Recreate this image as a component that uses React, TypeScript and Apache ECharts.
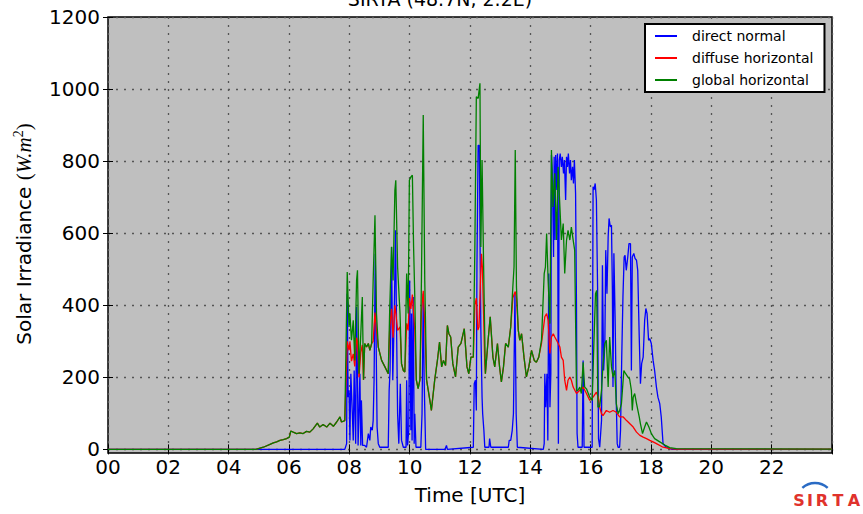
import React, { useEffect, useRef } from 'react';
import * as echarts from 'echarts';

// [hour UTC, W/m²]
const globalHorizontal: number[][] = [
  [0, 0], [4.9, 0], [5.15, 6], [5.37, 14], [5.48, 18], [5.59, 21], [5.7, 25], [5.81, 27], [5.92, 30], [6.01, 34], [6.06, 51],
  [6.14, 48], [6.25, 44], [6.36, 46], [6.47, 44], [6.58, 50], [6.69, 48], [6.8, 57], [6.94, 73], [7.02, 62], [7.13, 69],
  [7.25, 62], [7.36, 73], [7.47, 64], [7.58, 76], [7.69, 90], [7.74, 76], [7.85, 80],
  [7.93, 492], [7.99, 340], [8.02, 377], [8.07, 303], [8.13, 358], [8.18, 247], [8.24, 469], [8.27, 497], [8.32, 210],
  [8.38, 321], [8.43, 423], [8.47, 193], [8.51, 294], [8.57, 284], [8.63, 294], [8.68, 275], [8.74, 294], [8.79, 469],
  [8.85, 650], [8.9, 377], [8.96, 284], [9.07, 247], [9.18, 229], [9.29, 210], [9.34, 395], [9.4, 562], [9.45, 469],
  [9.51, 719], [9.54, 747], [9.6, 506], [9.68, 377], [9.73, 238], [9.79, 219], [9.84, 215], [9.9, 488], [9.95, 377],
  [9.99, 747], [10.04, 756], [10.09, 761], [10.13, 562], [10.17, 423], [10.22, 193], [10.28, 169], [10.34, 193],
  [10.39, 469], [10.45, 928], [10.5, 469], [10.56, 193], [10.67, 136], [10.72, 108], [10.83, 193], [10.92, 247],
  [10.99, 298], [11.06, 229], [11.12, 247], [11.19, 233], [11.25, 344], [11.3, 321], [11.36, 312], [11.43, 238],
  [11.52, 201], [11.61, 284], [11.7, 294], [11.81, 335], [11.9, 229], [11.96, 210], [12.03, 256], [12.11, 256],
  [12.16, 553], [12.21, 979], [12.27, 974], [12.33, 1016], [12.36, 562], [12.4, 803], [12.45, 516], [12.51, 210],
  [12.6, 303], [12.67, 368], [12.76, 256], [12.82, 229], [12.91, 294], [12.98, 229], [13.04, 187], [13.11, 229],
  [13.18, 294], [13.27, 284], [13.35, 340], [13.42, 451], [13.46, 507], [13.5, 831], [13.54, 451], [13.6, 331],
  [13.65, 303], [13.71, 321], [13.79, 256], [13.87, 201], [13.95, 229], [14.04, 275], [14.13, 247], [14.2, 242],
  [14.28, 256], [14.37, 303], [14.46, 488], [14.5, 506], [14.54, 599], [14.59, 469], [14.65, 349], [14.7, 831],
  [14.75, 673], [14.81, 766], [14.87, 581], [14.92, 784], [14.98, 673], [15.03, 581], [15.09, 627], [15.14, 488],
  [15.2, 581], [15.25, 608], [15.31, 581], [15.36, 617], [15.42, 581], [15.47, 553], [15.53, 164], [15.58, 164],
  [15.64, 173], [15.69, 155], [15.75, 242], [15.8, 173], [15.86, 168], [15.97, 145], [16.05, 136], [16.11, 303],
  [16.16, 432], [16.2, 441], [16.24, 117], [16.3, 120], [16.36, 164], [16.41, 238], [16.47, 294], [16.52, 303],
  [16.58, 173], [16.63, 312], [16.69, 229], [16.74, 201], [16.8, 219], [16.85, 127], [16.91, 99], [16.96, 108],
  [17.02, 127], [17.1, 219], [17.16, 210], [17.23, 201], [17.29, 196], [17.35, 164], [17.38, 108], [17.41, 145],
  [17.46, 155], [17.52, 127], [17.61, 90], [17.65, 71], [17.72, 44], [17.79, 62], [17.85, 76], [17.93, 62],
  [18.01, 44], [18.12, 30], [18.29, 21], [18.46, 12], [18.62, 5], [18.84, 2], [24, 1],
];

const diffuseHorizontal: number[][] = [
  [0, 0], [4.9, 0], [5.15, 6], [5.37, 14], [5.48, 18], [5.59, 21], [5.7, 25], [5.81, 27], [5.92, 30], [6.01, 34], [6.06, 51],
  [6.14, 48], [6.25, 44], [6.36, 46], [6.47, 44], [6.58, 50], [6.69, 48], [6.8, 57], [6.94, 73], [7.02, 62], [7.13, 69],
  [7.25, 62], [7.36, 73], [7.47, 64], [7.58, 76], [7.69, 90], [7.74, 76], [7.85, 80],
  [7.93, 300], [7.99, 275], [8.02, 300], [8.07, 245], [8.13, 265], [8.18, 230], [8.24, 310], [8.27, 300], [8.32, 200],
  [8.38, 270], [8.43, 290], [8.47, 193], [8.51, 294], [8.57, 284], [8.63, 294], [8.68, 275], [8.74, 294], [8.79, 300],
  [8.85, 380], [8.9, 330], [8.96, 284], [9.07, 247], [9.18, 229], [9.29, 210], [9.34, 340], [9.4, 390], [9.45, 310],
  [9.51, 400], [9.54, 380], [9.6, 330], [9.68, 340], [9.73, 238], [9.79, 219], [9.84, 215], [9.9, 350], [9.95, 330],
  [9.99, 420], [10.04, 390], [10.09, 430], [10.13, 380], [10.17, 330], [10.22, 193], [10.28, 169], [10.34, 193],
  [10.39, 380], [10.45, 440], [10.5, 350], [10.56, 193], [10.67, 136], [10.72, 108], [10.83, 193], [10.92, 247],
  [10.99, 298], [11.06, 229], [11.12, 247], [11.19, 233], [11.25, 344], [11.3, 321], [11.36, 312], [11.43, 238],
  [11.52, 201], [11.61, 284], [11.7, 294], [11.81, 335], [11.9, 229], [11.96, 210], [12.03, 256], [12.11, 256],
  [12.16, 400], [12.21, 420], [12.26, 331], [12.3, 340], [12.34, 451], [12.38, 543], [12.41, 506], [12.45, 377],
  [12.49, 238], [12.51, 210],
  [12.6, 303], [12.67, 368], [12.76, 256], [12.82, 229], [12.91, 294], [12.98, 229], [13.04, 187], [13.11, 229],
  [13.18, 294], [13.27, 284], [13.35, 340], [13.42, 420], [13.46, 430], [13.5, 438], [13.54, 420], [13.6, 331],
  [13.65, 303], [13.71, 321], [13.79, 256], [13.87, 201], [13.95, 229], [14.04, 275], [14.13, 247], [14.2, 242],
  [14.28, 256], [14.37, 294], [14.48, 368], [14.54, 377], [14.59, 358], [14.65, 266], [14.7, 312], [14.76, 321],
  [14.81, 312], [14.87, 303], [14.98, 284], [15.03, 256], [15.09, 247], [15.14, 192], [15.2, 164], [15.25, 192],
  [15.31, 201], [15.36, 192], [15.42, 173], [15.53, 155], [15.64, 164], [15.75, 173], [15.86, 155], [15.97, 136],
  [16.08, 145], [16.19, 159], [16.25, 145], [16.3, 117], [16.36, 99], [16.41, 94], [16.52, 108], [16.63, 103],
  [16.74, 108], [16.85, 103], [16.96, 90], [17.08, 90], [17.19, 80], [17.3, 71], [17.41, 62], [17.52, 48],
  [17.63, 39], [17.74, 34], [17.85, 30], [17.96, 25], [18.07, 21], [18.18, 16], [18.4, 6], [18.62, 2], [18.84, 1],
  [24, 0.5],
];

const directNormal: number[][] = [
  [0, 0], [7.85, 0], [7.91, 16], [7.93, 432], [7.96, 145], [7.99, 164], [8.02, 25], [8.05, 210], [8.1, 99], [8.13, 25],
  [8.16, 219], [8.21, 16], [8.24, 395], [8.27, 210], [8.29, 11], [8.32, 99], [8.35, 210], [8.38, 11], [8.4, 136],
  [8.44, 11], [8.51, 11], [8.57, 6], [8.63, 44], [8.68, 25], [8.71, 62], [8.76, 53], [8.79, 80], [8.82, 192],
  [8.86, 543], [8.89, 284], [8.92, 62], [8.96, 16], [9.01, 6], [9.29, 6], [9.32, 164], [9.35, 219], [9.4, 562],
  [9.44, 192], [9.49, 377], [9.53, 608], [9.56, 377], [9.6, 99], [9.64, 16], [9.69, 182], [9.73, 25], [9.79, 6],
  [9.88, 6], [9.9, 192], [9.93, 11], [9.97, 53], [10.0, 469], [10.04, 53], [10.06, 377], [10.08, 25], [10.12, 423],
  [10.15, 16], [10.17, 99], [10.21, 6], [10.37, 6], [10.41, 99], [10.45, 432], [10.48, 192], [10.53, 0], [11.17, 0],
  [11.22, 11], [11.25, 0], [12.11, 6], [12.14, 182], [12.18, 192], [12.21, 108], [12.23, 506], [12.27, 844],
  [12.31, 844], [12.34, 506], [12.36, 331], [12.4, 145], [12.42, 99], [12.46, 53], [12.49, 6], [12.63, 6],
  [12.65, 30], [12.69, 6], [13.27, 6], [13.3, 25], [13.35, 25], [13.4, 53], [13.44, 99], [13.49, 432], [13.53, 99],
  [13.57, 6], [14.43, 0], [14.46, 16], [14.48, 210], [14.51, 117], [14.55, 210], [14.58, 25], [14.61, 488],
  [14.65, 117], [14.68, 210], [14.7, 817], [14.73, 766], [14.77, 534], [14.79, 812], [14.82, 581], [14.84, 817],
  [14.88, 720], [14.9, 821], [14.92, 303], [14.93, 16], [14.95, 581], [14.96, 803], [14.99, 821], [15.03, 784],
  [15.06, 812], [15.1, 766], [15.13, 803], [15.17, 692], [15.2, 812], [15.23, 784], [15.26, 821], [15.3, 766],
  [15.33, 803], [15.36, 747], [15.4, 784], [15.43, 738], [15.46, 803], [15.5, 710], [15.53, 395], [15.55, 44],
  [15.58, 6], [15.72, 6], [15.75, 247], [15.78, 6], [16.05, 6], [16.08, 729], [16.11, 720], [16.15, 738],
  [16.19, 692], [16.23, 442], [16.26, 30], [16.3, 6], [16.36, 80], [16.39, 511], [16.43, 219], [16.47, 294],
  [16.5, 553], [16.54, 432], [16.58, 590], [16.61, 641], [16.65, 618], [16.69, 622], [16.72, 442], [16.74, 173],
  [16.77, 544], [16.81, 367], [16.85, 127], [16.88, 16], [16.91, 6], [16.96, 6], [16.99, 53], [17.03, 256],
  [17.07, 423], [17.11, 534], [17.14, 539], [17.18, 497], [17.23, 534], [17.27, 571], [17.32, 571], [17.35, 219],
  [17.38, 534], [17.43, 544], [17.47, 530], [17.52, 525], [17.56, 497], [17.61, 312], [17.65, 182], [17.69, 238],
  [17.74, 256], [17.79, 358], [17.83, 391], [17.87, 377], [17.92, 303], [17.96, 307], [18.01, 294], [18.07, 247],
  [18.12, 219], [18.18, 173], [18.23, 145], [18.29, 127], [18.34, 90], [18.4, 15], [18.51, 6], [18.7, 0], [24, 0],
];

const yTickValues = [0, 200, 400, 600, 800, 1000, 1200];
const seriesNames = ['direct normal', 'diffuse horizontal', 'global horizontal'];
const titleText = 'SIRTA (48.7N, 2.2E)';
const xTitle = 'Time [UTC]';
const logoLetters = ['S', 'I', 'R', 'T', 'A'];

const FONT = 'DejaVu Sans';

export default function App() {
  const ref = useRef<HTMLDivElement>(null);
  useEffect(() => {
    if (!ref.current) return;
    const chart = echarts.init(ref.current, undefined, { renderer: 'svg' });
    const gridLine = { show: true, lineStyle: { color: '#555555', type: [2, 6] as any, width: 1.3 } };
    const mkSeries = (name: string, data: number[][], color: string) => ({
      name,
      type: 'line',
      data,
      showSymbol: false,
      symbol: 'none',
      color,
      lineStyle: { color, width: 1.3 },
      xAxisIndex: 0,
      yAxisIndex: 0,
    });
    const logoX = [799, 810, 822, 838, 854];
    chart.setOption({
      animation: false,
      backgroundColor: '#ffffff',
      grid: {
        left: 108, top: 17, width: 724, height: 436,
        show: true, backgroundColor: '#bfbfbf', borderColor: '#000', borderWidth: 1.5,
      },
      legend: {
        orient: 'vertical', left: 645, top: 24,
        padding: [5, 11, 5, 10], itemGap: 8, itemWidth: 22, itemHeight: 2, icon: 'rect',
        backgroundColor: '#ffffff', borderColor: '#000', borderWidth: 2, borderRadius: 0,
        textStyle: { fontSize: 14, fontFamily: FONT, color: '#000', padding: [0, 0, 0, 10] },
        data: seriesNames,
      },
      xAxis: [
        {
          type: 'value', min: 0, max: 24, interval: 2, position: 'bottom',
          axisLine: { show: false },
          axisTick: { show: true, inside: true, length: 5, lineStyle: { color: '#000', width: 1 } },
          axisLabel: {
            fontSize: 20, fontFamily: FONT, color: '#000', margin: 4,
            formatter: (v: number) => (v >= 24 ? '' : String(v).padStart(2, '0')),
          },
          splitLine: gridLine,
          name: xTitle, nameLocation: 'middle', nameGap: 32,
          nameTextStyle: { fontSize: 20, fontFamily: FONT, color: '#000' },
        },
        {
          type: 'value', min: 0, max: 24, interval: 2, position: 'top',
          axisLine: { show: false },
          axisTick: { show: true, inside: true, length: 5, lineStyle: { color: '#000', width: 1 } },
          axisLabel: { show: false }, splitLine: { show: false },
        },
      ],
      yAxis: [
        {
          type: 'value', min: -10, max: 1200, position: 'left',
          axisLine: { show: false },
          axisTick: { show: true, inside: true, length: 5, customValues: yTickValues, lineStyle: { color: '#000', width: 1 } },
          axisLabel: {
            fontSize: 20, fontFamily: FONT, color: '#000', margin: 8, customValues: yTickValues,
            formatter: (v: number) => String(Math.round(v)),
          },
          splitLine: gridLine,
        },
        {
          type: 'value', min: -10, max: 1200, position: 'right',
          axisLine: { show: false },
          axisTick: { show: true, inside: true, length: 5, customValues: yTickValues, lineStyle: { color: '#000', width: 1 } },
          axisLabel: { show: false, customValues: yTickValues }, splitLine: { show: false },
        },
      ],
      series: [
        mkSeries(seriesNames[0], directNormal, '#0000ff'),
        mkSeries(seriesNames[1], diffuseHorizontal, '#ff0000'),
        mkSeries(seriesNames[2], globalHorizontal, '#008000'),
      ],
      graphic: [
        {
          type: 'text', x: 440, y: -1,
          style: { text: titleText, font: `19px "${FONT}"`, fill: '#000', align: 'center', verticalAlign: 'middle' },
        },
        {
          type: 'text', x: 24, y: 234, rotation: Math.PI / 2,
          style: {
            text: '{a|Solar Irradiance }{b|(}{c|W.m}{d|2}{b|)}',
            align: 'center', verticalAlign: 'middle',
            rich: {
              a: { fontSize: 20, fontFamily: FONT, fill: '#000', lineHeight: 26 },
              b: { fontSize: 21, fontFamily: 'Liberation Serif', fill: '#000', lineHeight: 26 },
              c: { fontSize: 21, fontFamily: 'Liberation Serif', fontStyle: 'italic', fill: '#000', lineHeight: 26 },
              d: { fontSize: 14, fontFamily: 'Liberation Serif', fill: '#000', lineHeight: 26, verticalAlign: 'top' },
            },
          },
        },
        {
          type: 'arc', shape: { cx: 815, cy: 502, r: 19, startAngle: -2.3, endAngle: -0.84, clockwise: true },
          style: { stroke: '#2a6bc4', lineWidth: 2.5, fill: 'none' },
        },
        ...logoLetters.map((ch, i) => ({
          type: 'text', x: logoX[i], y: 500,
          style: { text: ch, font: `bold 16px "${FONT}"`, fill: '#e0322c', align: 'center', verticalAlign: 'middle' },
        })),
      ],
    });
    return () => chart.dispose();
  }, []);
  return <div ref={ref} style={{ position: 'fixed', left: 0, top: 0, width: 863, height: 514 }} />;
}
